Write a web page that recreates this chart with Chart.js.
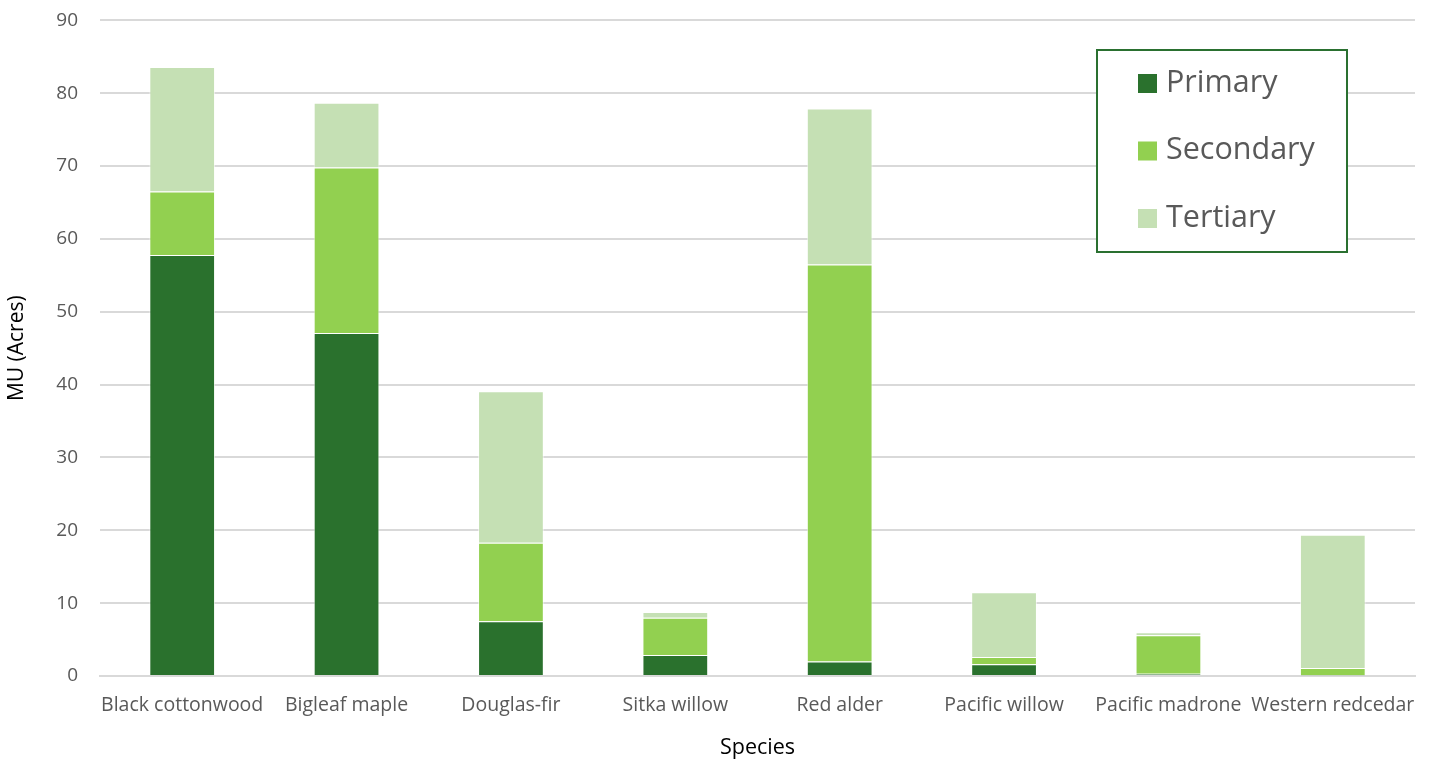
<!DOCTYPE html>
<html>
<head>
<meta charset="utf-8">
<script src="https://cdn.jsdelivr.net/npm/chart.js@4/dist/chart.umd.min.js"></script>
<style>
  html, body { margin: 0; padding: 0; background: #fff; overflow: hidden; }
  #wrap { width: 1432px; height: 772px; position: relative; top: -13px; }
</style>
</head>
<body>
<div id="wrap"><canvas id="species"></canvas></div>
<script>
var species = ['Black cottonwood', 'Bigleaf maple', 'Douglas-fir', 'Sitka willow',
  'Red alder', 'Pacific willow', 'Pacific madrone', 'Western redcedar'];
var primary   = [57.8, 47.1, 7.5, 2.9, 2.0, 1.6, 0.3, 0.1];
var secondary = [8.7, 22.7, 10.8, 5.1, 54.5, 1.0, 5.3, 1.0];
var tertiary  = [17.1, 8.9, 20.8, 0.8, 21.4, 8.9, 0.4, 18.3];
var yTicks = [0, 10, 20, 30, 40, 50, 60, 70, 80, 90];

var colors = { primary: '#2a712d', secondary: '#92d050', tertiary: '#c5e0b4' };
var textColor = '#595959';
var fontFamily = '"Open Sans", "Noto Sans", sans-serif';
var shift = 13; // canvas is pulled up by this much

// legend box drawn inside the plot, top right
var boxLegend = {
  id: 'boxLegend',
  afterDraw: function(chart){
    var ctx = chart.ctx;
    var x = 1097, y = 50 + shift, w = 250, h = 202;
    ctx.save();
    ctx.fillStyle = '#fff';
    ctx.fillRect(x, y, w, h);
    ctx.strokeStyle = '#2a7030';
    ctx.lineWidth = 2;
    ctx.strokeRect(x, y, w, h);
    ctx.font = '30.5px ' + fontFamily;
    ctx.textBaseline = 'middle';
    chart.data.datasets.forEach(function(ds, i){
      var cy = 83 + shift + i * 67.5;
      ctx.fillStyle = ds.backgroundColor;
      ctx.fillRect(1138, cy - 9, 19, 19);
      ctx.fillStyle = textColor;
      ctx.fillText(ds.label, 1166, cy);
    });
    ctx.restore();
  }
};

var opt = {
  type: 'bar',
  data: {
    labels: species,
    datasets: [
      { label: 'Primary', data: primary, backgroundColor: colors.primary },
      { label: 'Secondary', data: secondary, backgroundColor: colors.secondary },
      { label: 'Tertiary', data: tertiary, backgroundColor: colors.tertiary }
    ].map(function(d){
      d.borderColor = 'rgba(255,255,255,0.6)';
      d.borderWidth = 1;
      d.categoryPercentage = 1;
      d.barPercentage = 0.4;
      return d;
    })
  },
  options: {
    responsive: true,
    maintainAspectRatio: false,
    animation: false,
    layout: { padding: { top: 8, right: 17, left: 0, bottom: 0 } },
    plugins: { legend: { display: false }, tooltip: { enabled: false } },
    scales: {
      x: {
        stacked: true,
        grid: { display: false },
        border: { color: '#d9d9d9', width: 2 },
        ticks: { color: textColor, font: { family: fontFamily, size: 19.5 }, padding: 10, maxRotation: 0, autoSkip: false },
        title: { display: true, text: 'Species', color: '#000', font: { family: fontFamily, size: 21.5, lineHeight: 1 }, padding: { top: 10, bottom: 0 } },
        afterFit: function(s){ s.height = 83; }
      },
      y: {
        stacked: true,
        min: 0,
        max: 90,
        afterBuildTicks: function(s){ s.ticks = yTicks.map(function(v){ return { value: v }; }); },
        grid: { color: '#d9d9d9', lineWidth: 2, drawTicks: false },
        border: { display: false },
        ticks: { color: textColor, font: { family: fontFamily, size: 19 }, padding: 22 },
        title: { display: true, text: 'MU (Acres)', color: '#000', font: { family: fontFamily, size: 21 }, padding: { bottom: 4 } },
        afterFit: function(s){ s.width = 100; }
      }
    }
  },
  plugins: [boxLegend]
};

var ctx = document.getElementById('species');
var chart = new Chart(ctx, opt);
</script>
</body>
</html>
